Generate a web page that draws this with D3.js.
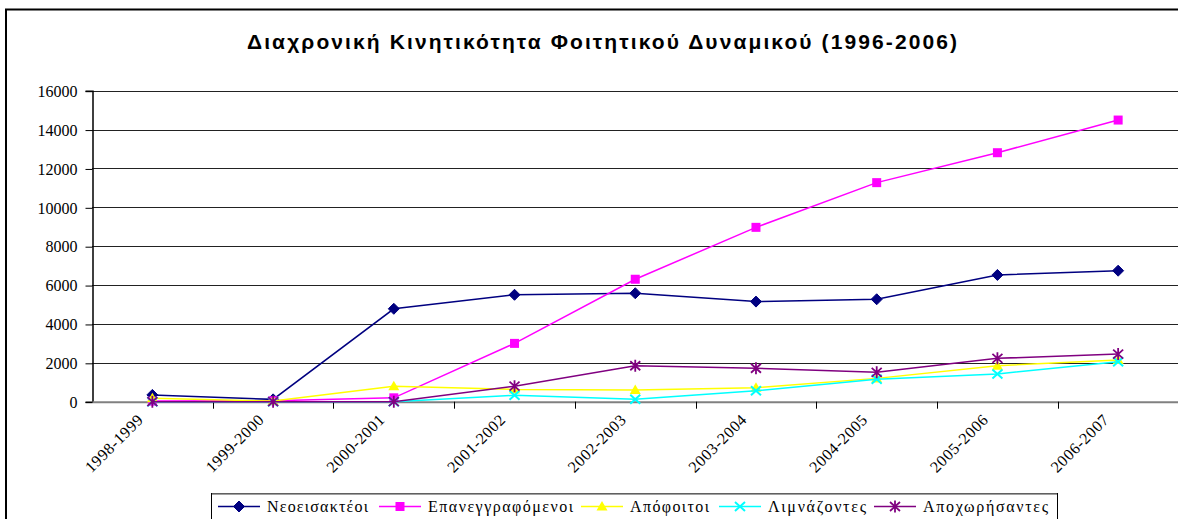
<!DOCTYPE html>
<html>
<head>
<meta charset="utf-8">
<script src="https://cdn.jsdelivr.net/npm/d3@7"></script>
<style>
  html, body { margin: 0; padding: 0; background: #fff; }
  svg { display: block; }
  .serif { font-family: "Liberation Serif", "Times New Roman", serif; }
  .sans { font-family: "Liberation Sans", Arial, sans-serif; }
</style>
</head>
<body>
<svg id="chart" width="1178" height="519"></svg>
<script>
const categories = ["1998-1999","1999-2000","2000-2001","2001-2002","2002-2003","2003-2004","2004-2005","2005-2006","2006-2007"];
const seriesNames = ["Νεοεισακτέοι","Επανεγγραφόμενοι","Απόφοιτοι","Λιμνάζοντες","Αποχωρήσαντες"];
const neoeisaktoi = [350, 120, 4780, 5500, 5580, 5150, 5270, 6520, 6740];
const epanengrafomenoi = [30, 50, 200, 3000, 6300, 8970, 11270, 12810, 14490];
const apofoitoi = [180, 30, 800, 630, 600, 720, 1200, 1850, 2150];
const limnazontes = [0, 0, 0, 330, 120, 560, 1150, 1430, 2060];
const apoxorisantes = [0, 0, 0, 800, 1850, 1720, 1510, 2230, 2450];
const yTicks = [0, 2000, 4000, 6000, 8000, 10000, 12000, 14000, 16000];
const titleText = "Διαχρονική Κινητικότητα Φοιτητικού Δυναμικού (1996-2006)";

const seriesValues = [neoeisaktoi, epanengrafomenoi, apofoitoi, limnazontes, apoxorisantes];
const colors = ["#000080", "#FF00FF", "#FFFF00", "#00FFFF", "#800080"];
const markers = ["diamond", "square", "triangle", "cross", "star"];
const legendX = [218, 379, 581, 719, 874];
const legendTextW = [101, 145, 79, 98, 125];

const svg = d3.select("#chart");

// outer frame
svg.append("path")
  .attr("d", "M6,540 L6,9.5 L1190,9.5")
  .attr("fill", "none").attr("stroke", "#000").attr("stroke-width", 2);

// title
svg.append("text")
  .attr("class", "sans")
  .attr("x", 602).attr("y", 49)
  .attr("text-anchor", "middle")
  .attr("font-weight", "bold")
  .style("font-size", "21px")
  .attr("textLength", 710)
  .attr("lengthAdjust", "spacing")
  .text(titleText);

const plotLeft = 92, plotRight = 1178.5, plotTop = 90.7, plotBottom = 401.7;

const x = d3.scaleBand().domain(categories).range([plotLeft, plotRight]).padding(0);
const y = d3.scaleLinear().domain([0, 16000]).range([plotBottom, plotTop]);

// gridlines
svg.append("g")
  .selectAll("line")
  .data(yTicks.filter(d => d > 0))
  .join("line")
  .attr("x1", plotLeft).attr("x2", plotRight)
  .attr("y1", d => Math.round(y(d)) + 0.5).attr("y2", d => Math.round(y(d)) + 0.5)
  .attr("stroke", "#222").attr("stroke-width", 1);

// y axis
const yAxis = d3.axisLeft(y).tickValues(yTicks).tickSize(7).tickPadding(8).tickFormat(d3.format("d"));
const gy = svg.append("g").attr("transform", `translate(${plotLeft + 0.5},0)`).call(yAxis);
gy.attr("font-family", null).attr("font-size", null);
gy.select(".domain").attr("stroke", "#000").attr("stroke-width", 1.5);
gy.selectAll(".tick line").attr("stroke", "#000").attr("transform", "translate(0,0.5)");
gy.selectAll(".tick text")
  .attr("class", "serif")
  .style("font-size", "16px")
  .attr("fill", "#000")
  .attr("dy", "0.36em");

// x axis
const xAxis = d3.axisBottom(x).tickSize(0).tickFormat(d => d);
const gx = svg.append("g").attr("transform", `translate(0,${plotBottom})`).call(xAxis);
gx.attr("font-family", null).attr("font-size", null);
gx.select(".domain").attr("stroke", "#808080").attr("stroke-width", 2);
gx.selectAll(".tick text")
  .attr("class", "serif")
  .style("font-size", "16px")
  .style("letter-spacing", "0.6px")
  .attr("fill", "#000")
  .attr("text-anchor", "end")
  .attr("transform", "translate(-12,15) rotate(-45)")
  .attr("dy", "0.35em")
  .attr("y", 0);
// boundary ticks
const boundaries = categories.map(c => x(c)).concat([x(categories[categories.length - 1]) + x.bandwidth()]);
svg.append("g").selectAll("line")
  .data(boundaries.slice(1))
  .join("line")
  .attr("x1", d => Math.round(d) + 0.5).attr("x2", d => Math.round(d) + 0.5)
  .attr("y1", plotBottom).attr("y2", plotBottom + 7)
  .attr("stroke", "#000").attr("stroke-width", 1);

function drawMarker(g, type, color, cx, cy) {
  const s = g.append("g").attr("transform", `translate(${cx},${cy})`);
  if (type === "diamond") {
    s.append("path").attr("d", "M0,-5.5 L5.5,0 L0,5.5 L-5.5,0 Z").attr("fill", color).attr("stroke", color);
  } else if (type === "square") {
    s.append("rect").attr("x", -4.5).attr("y", -4.5).attr("width", 9).attr("height", 9).attr("fill", color);
  } else if (type === "triangle") {
    s.append("path").attr("d", "M0,-5.5 L5.5,4 L-5.5,4 Z").attr("fill", color);
  } else if (type === "cross") {
    s.append("path").attr("d", "M-5,-4.5 L5,4.5 M-5,4.5 L5,-4.5").attr("stroke", color).attr("stroke-width", 2).attr("fill", "none");
  } else if (type === "star") {
    s.append("path").attr("d", "M-5,-4.5 L5,4.5 M-5,4.5 L5,-4.5 M0,-6 L0,6").attr("stroke", color).attr("stroke-width", 1.8).attr("fill", "none");
  }
}

const line = d3.line()
  .x((d, i) => x(categories[i]) + x.bandwidth() / 2)
  .y(d => y(d));

seriesValues.forEach((vals, si) => {
  const g = svg.append("g");
  g.append("path")
    .attr("d", line(vals))
    .attr("fill", "none")
    .attr("stroke", colors[si])
    .attr("stroke-width", 1.5);
  vals.forEach((v, i) => {
    drawMarker(g, markers[si], colors[si], x(categories[i]) + x.bandwidth() / 2, y(v));
  });
});

// legend
const lg = svg.append("g");
lg.append("rect")
  .attr("x", 211.5).attr("y", 493.5).attr("width", 846).attr("height", 40)
  .attr("fill", "#fff").attr("stroke", "#000").attr("stroke-width", 1);
lg.append("line").attr("x1", 212).attr("x2", 1057).attr("y1", 494).attr("y2", 494).attr("stroke", "#808080").attr("stroke-width", 1.5);
seriesNames.forEach((name, i) => {
  const lx = legendX[i];
  const ly = 506.5;
  lg.append("line").attr("x1", lx).attr("x2", lx + 42).attr("y1", ly).attr("y2", ly)
    .attr("stroke", colors[i]).attr("stroke-width", 1.5);
  drawMarker(lg, markers[i], colors[i], lx + 21, ly);
  lg.append("text")
    .attr("class", "serif")
    .attr("x", lx + 49).attr("y", ly + 5)
    .style("font-size", "16px")
    .attr("textLength", legendTextW[i])
    .attr("lengthAdjust", "spacing")
    .text(name);
});
</script>
</body>
</html>
